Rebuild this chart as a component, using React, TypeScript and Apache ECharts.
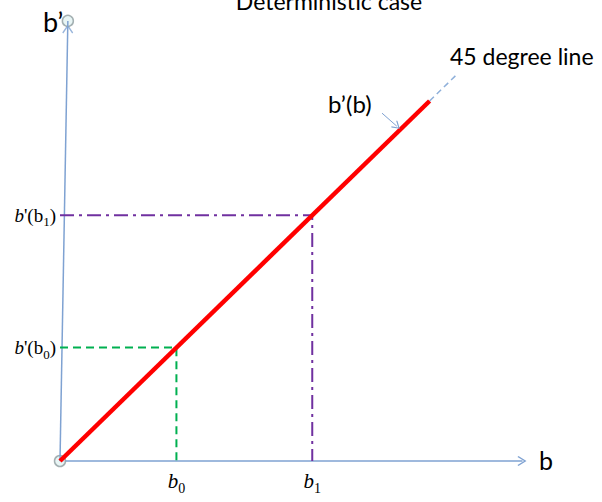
import React, { useEffect, useRef } from 'react';
import * as echarts from 'echarts';

// ---- texts ----
const titleText = 'Deterministic case';
const xAxisName = 'b';
const yAxisName = 'b\u2019';
const curveName = 'b\u2019(b)';
const lineNote = '45 degree line';

// ---- data (conceptual units on both axes) ----
const subscripts = ['0', '1'];
const bValues = [2.52, 5.46];        // b0, b1 on the horizontal axis
const bPrimeValues = [2.52, 5.46];   // b'(b0), b'(b1) on the vertical axis
const axisMax = 10;
const lineEnd = 8;                   // red b'(b) segment ends here
const extensionEnd = 8.6;            // dashed 45 degree continuation
const yAxisTop = [0.17, 9.78];       // slightly tilted vertical axis
const yArrowPoint = [0.167, 9.6];
const pointerFrom = [6.97, 7.73];
const pointerTo = [7.29, 7.44];

const axisBlue = '#7fa2d2';
const chevronUp = 'path://M5,0L10,8L9,8.9L5,2.4L1,8.9L0,8Z';

const serif = 'Liberation Serif';
const sans = 'Lato';

function nearestIndex(arr: number[], v: number) {
  let best = 0;
  for (let i = 1; i < arr.length; i++) {
    if (Math.abs(arr[i] - v) < Math.abs(arr[best] - v)) best = i;
  }
  return best;
}

export default function App() {
  const ref = useRef<HTMLDivElement>(null);
  useEffect(() => {
    if (!ref.current) return;
    const chart = echarts.init(ref.current, undefined, { renderer: 'svg' });
    const richX = {
      i: { fontFamily: serif, fontStyle: 'italic', fontSize: 21, color: '#000' },
      s: { fontFamily: serif, fontSize: 14, color: '#000', padding: [14, 0, 0, 0] },
    };
    const richY = {
      i: { fontFamily: serif, fontStyle: 'italic', fontSize: 19, color: '#000' },
      n: { fontFamily: serif, fontSize: 19, color: '#000' },
      s: { fontFamily: serif, fontSize: 13, color: '#000', padding: [13, 0, 0, 0] },
    };
    const option: any = {
      animation: false,
      grid: { left: 60, top: 11, width: 462, height: 450 },
      xAxis: {
        type: 'value',
        min: 0,
        max: axisMax,
        axisLine: {
          show: true,
          lineStyle: { color: axisBlue, width: 1.5 },
          symbol: ['none', chevronUp],
          symbolSize: [11, 9],
        },
        axisTick: { show: false },
        splitLine: { show: false },
        axisLabel: {
          customValues: bValues,
          margin: 6,
          formatter: (v: number) => `{i|b}{s|${subscripts[nearestIndex(bValues, v)]}}`,
          rich: richX,
        },
      },
      yAxis: {
        type: 'value',
        min: 0,
        max: axisMax,
        axisLine: { show: false },
        axisTick: { show: false },
        splitLine: { show: false },
        axisLabel: {
          customValues: bPrimeValues,
          margin: 4,
          formatter: (v: number) =>
            `{i|b}{n|'(b}{s|${subscripts[nearestIndex(bPrimeValues, v)]}}{n|)}`,
          rich: richY,
        },
      },
      series: [
        {
          type: 'line',
          name: 'vertical axis',
          data: [[0, 0], yAxisTop],
          symbol: 'none',
          lineStyle: { color: axisBlue, width: 1.5 },
          silent: true,
        },
        {
          type: 'line',
          name: 'b0 guide',
          data: [[0, bPrimeValues[0]], [bValues[0], bPrimeValues[0]], [bValues[0], 0]],
          symbol: 'none',
          lineStyle: { color: '#00b050', width: 2, type: [8, 5] },
          silent: true,
        },
        {
          type: 'line',
          name: 'b1 guide',
          data: [[0, bPrimeValues[1]], [bValues[1], bPrimeValues[1]], [bValues[1], 0]],
          symbol: 'none',
          lineStyle: { color: '#7030a0', width: 2, type: [14, 5, 3, 5] },
          silent: true,
        },
        {
          type: 'line',
          name: '45 degree line',
          data: [[lineEnd, lineEnd], [extensionEnd, extensionEnd]],
          symbol: 'none',
          lineStyle: { color: '#8fb0da', width: 1.5, type: [6, 4] },
          silent: true,
        },
        {
          type: 'line',
          name: curveName,
          data: [[0, 0], [lineEnd, lineEnd]],
          symbol: 'none',
          lineStyle: { color: '#ff0000', width: 4.5, cap: 'butt' },
          silent: true,
          markLine: {
            silent: true,
            symbol: ['none', chevronUp],
            symbolSize: [9, 8],
            label: { show: false },
            lineStyle: { color: axisBlue, width: 1, type: 'solid' },
            data: [[{ coord: pointerFrom }, { coord: pointerTo }]],
          },
        },
        {
          type: 'scatter',
          name: 'axis arrow',
          data: [yArrowPoint],
          symbol: chevronUp,
          symbolSize: [11, 9],
          itemStyle: { color: axisBlue },
          silent: true,
        },
        {
          type: 'scatter',
          name: 'axis ends',
          data: [[0, 0], yAxisTop],
          symbol: 'circle',
          symbolSize: 11,
          itemStyle: { color: '#e2f3f3', borderColor: '#8e9c9f', borderWidth: 1.5 },
          silent: true,
        },
      ],
      graphic: [
        {
          type: 'text', x: 329, y: 0.5,
          style: { text: titleText, fontFamily: sans, fontSize: 23, fill: '#000', align: 'center', verticalAlign: 'middle' },
        },
        {
          type: 'text', x: 43, y: 21.5,
          style: { text: yAxisName, fontFamily: sans, fontSize: 27, fill: '#000', align: 'left', verticalAlign: 'middle' },
        },
        {
          type: 'text', x: 539, y: 459.5,
          style: { text: xAxisName, fontFamily: sans, fontSize: 25, fill: '#000', align: 'left', verticalAlign: 'middle' },
        },
        {
          type: 'text', x: 450, y: 56,
          style: { text: lineNote, fontFamily: sans, fontSize: 23, fill: '#000', align: 'left', verticalAlign: 'middle' },
        },
        {
          type: 'text', x: 328, y: 103,
          style: { text: curveName, fontFamily: sans, fontSize: 24, fill: '#000', align: 'left', verticalAlign: 'middle' },
        },
      ],
    };
    chart.setOption(option);
    return () => chart.dispose();
  }, []);
  return (
    <div
      ref={ref}
      style={{ position: 'fixed', left: 0, top: 0, width: 602, height: 502, background: '#fff' }}
    />
  );
}
